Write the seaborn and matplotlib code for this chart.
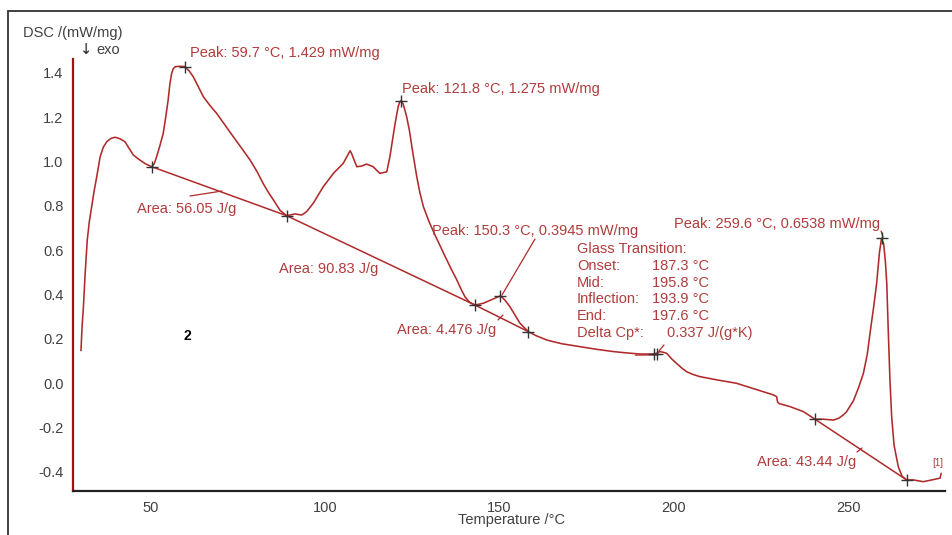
import numpy as np
import pandas as pd
import matplotlib
matplotlib.use("Agg")
import matplotlib.pyplot as plt
from matplotlib.ticker import MultipleLocator, FormatStrFormatter
from matplotlib.lines import Line2D
import seaborn as sns

# ---- data ----
temp = [30.0, 30.3, 30.7, 31.2, 31.8, 32.4, 33.1, 33.8, 34.5, 35.5, 36.4, 37.4, 38.6, 39.8,
        41.2, 42.6, 43.8, 45.0, 46.9, 48.5, 50.3,
        51.0, 51.7, 52.6, 53.6, 54.3, 55.0, 55.5, 56.0, 56.5, 57.0, 58.3, 59.7, 61.0, 62.2,
        63.6, 65.1, 66.9, 68.9, 71.3, 73.7, 76.1, 78.5, 80.5, 82.3, 83.8, 85.2, 87.1, 89.0,
        91.4, 93.3, 94.7, 96.6, 99.5, 102.4, 105.2, 107.2, 107.6, 109.1,
        110.5, 111.9, 113.8, 115.7, 117.7, 118.6, 120.1, 121.0, 121.4, 121.8, 122.4, 123.4,
        124.2, 124.9, 125.6, 126.3, 127.2, 128.2, 129.8, 131.5, 133.0, 134.5, 136.2, 137.8,
        139.0, 140.1, 141.5, 143.0, 145.4, 148.2, 150.3, 151.6, 153.0,
        155.9, 158.3, 160.5, 163.6, 168.0, 173.1, 178.0, 182.7, 186.5, 190.3, 194.0, 195.2,
        196.0, 197.0, 198.0, 199.4, 200.8, 202.2, 203.7, 205.5, 207.5, 212.5, 218.0, 222.0,
        225.7, 228.5, 229.5, 229.8, 230.3, 233.3, 237.2, 240.5, 242.9, 245.8, 247.3, 248.6,
        249.5, 251.5, 253.0, 254.4, 255.5, 256.3, 257.3, 258.2, 259.0, 259.6, 260.2, 260.7,
        261.1, 261.5, 262.0, 262.5, 263.2, 264.4, 265.5, 266.8, 268.7, 271.6, 276.4, 276.7]
dsc = [0.147, 0.25, 0.345, 0.496, 0.646, 0.73, 0.80, 0.87, 0.93, 1.022, 1.065, 1.09, 1.105, 1.11,
       1.103, 1.09, 1.06, 1.03, 1.007, 0.99, 0.977,
       0.99, 1.022, 1.07, 1.128, 1.20, 1.278, 1.35, 1.398, 1.42, 1.428, 1.43, 1.429, 1.41, 1.383,
       1.34, 1.293, 1.255, 1.218, 1.165, 1.112, 1.06, 1.007, 0.955, 0.90, 0.86, 0.827, 0.78, 0.756,
       0.764, 0.759, 0.774, 0.812, 0.887, 0.947, 0.992, 1.049, 1.037, 0.977,
       0.98, 0.989, 0.977, 0.947, 0.954, 1.022, 1.173, 1.25, 1.268, 1.275, 1.26, 1.203,
       1.14, 1.067, 1.0, 0.932, 0.86, 0.797, 0.73, 0.67, 0.62, 0.57, 0.515, 0.466,
       0.425, 0.391, 0.365, 0.353, 0.361, 0.380, 0.3945, 0.375, 0.346,
       0.271, 0.233, 0.215, 0.195, 0.178, 0.165, 0.153, 0.143, 0.137, 0.132, 0.132, 0.136,
       0.143, 0.140, 0.135, 0.11, 0.09, 0.07, 0.052, 0.04, 0.030, 0.015, 0.000, -0.02,
       -0.038, -0.052, -0.060, -0.085, -0.092, -0.105, -0.128, -0.162, -0.162, -0.166, -0.158, -0.143,
       -0.13, -0.08, -0.02, 0.045, 0.13, 0.226, 0.34, 0.451, 0.59, 0.6538, 0.63, 0.55,
       0.45, 0.25, 0.02, -0.15, -0.28, -0.376, -0.42, -0.436, -0.436, -0.444, -0.428, -0.406]

# marked points (+)
mark_t = [50.3, 59.7, 89.0, 121.8, 143.0, 150.3, 158.3, 194.2, 195.2, 240.5, 259.6, 266.8]
mark_v = [0.977, 1.429, 0.756, 1.275, 0.353, 0.3945, 0.233, 0.132, 0.134, -0.162, 0.6538, -0.436]

# integration baselines (start/end points)
base_t0 = [50.3, 89.0, 143.0, 240.5]
base_v0 = [0.977, 0.756, 0.353, -0.162]
base_t1 = [89.0, 143.0, 158.3, 266.8]
base_v1 = [0.756, 0.353, 0.233, -0.436]

peak_labels = ["Peak: 59.7 °C, 1.429 mW/mg", "Peak: 121.8 °C, 1.275 mW/mg",
               "Peak: 150.3 °C, 0.3945 mW/mg", "Peak: 259.6 °C, 0.6538 mW/mg"]
area_labels = ["Area: 56.05 J/g", "Area: 90.83 J/g", "Area: 4.476 J/g", "Area: 43.44 J/g"]
gt_names = ["Onset:", "Mid:", "Inflection:", "End:", "Delta Cp*:"]
gt_values = ["187.3 °C", "195.8 °C", "193.9 °C", "197.6 °C", "0.337 J/(g*K)"]

# ---- style ----
sns.set_style("white")
plt.rcParams['font.family'] = ['Liberation Sans', 'DejaVu Sans']
plt.rcParams['axes.unicode_minus'] = False

RED = "#b02a2a"
TXT = "#b13c3c"
SPINE = "#a31212"
GREY = "#404040"

W, H = 952, 535
fig = plt.figure(figsize=(W / 100, H / 100), dpi=100)
L, R, T_, B = 73.3, 945, 59, 491
ax = fig.add_axes([L / W, 1 - B / H, (R - L) / W, (B - T_) / H])

df = pd.DataFrame({"Temperature": temp, "DSC": dsc})
sns.lineplot(data=df, x="Temperature", y="DSC", ax=ax, color=RED, lw=1.15,
             sort=False, estimator=None)

for t0, v0, t1, v1 in zip(base_t0, base_v0, base_t1, base_v1):
    ax.plot([t0, t1], [v0, v1], color=RED, lw=1.1)
# glass transition tangent
ax.plot([189, 195.2], [0.127, 0.128], color=RED, lw=0.9)

ax.plot(mark_t, mark_v, ls="none", marker="+", ms=8, mew=1.0, color="#333333", zorder=5)

ax.set_xlim(27.8, 277.8)
ax.set_ylim(-0.486, 1.463)
ax.set_xlabel("")
ax.set_ylabel("")

ax.xaxis.set_major_locator(MultipleLocator(50))
ax.xaxis.set_minor_locator(MultipleLocator(10))
ax.yaxis.set_major_locator(MultipleLocator(0.2))
ax.yaxis.set_minor_locator(MultipleLocator(0.1))
ax.yaxis.set_major_formatter(FormatStrFormatter("%.1f"))

for s in ["top", "right"]:
    ax.spines[s].set_visible(False)
ax.spines["left"].set_color(SPINE)
ax.spines["left"].set_linewidth(1.6)
ax.spines["bottom"].set_color("#222222")
ax.spines["bottom"].set_linewidth(1.6)

ax.tick_params(axis="both", which="major", direction="out", length=4, width=1.2,
               labelsize=10.5, labelcolor=GREY, pad=3)
ax.tick_params(axis="both", which="minor", direction="out", length=2.5, width=1.0)
ax.tick_params(axis="y", which="both", colors=SPINE, labelcolor=GREY)
ax.tick_params(axis="x", which="both", colors="#222222", labelcolor=GREY)


def P(x, y):
    """pixel (from top-left) -> data coords"""
    return ax.transData.inverted().transform((x, H - y))


def put(x, y, s, **kw):
    kw.setdefault("color", TXT)
    kw.setdefault("fontsize", 10.5)
    ax.text(*P(x, y), s, ha=kw.pop("ha", "left"), va=kw.pop("va", "center"), **kw)


def leader(x0, y0, x1, y1):
    a, b = P(x0, y0), P(x1, y1)
    ax.plot([a[0], b[0]], [a[1], b[1]], color=RED, lw=0.9)


put(190, 53, peak_labels[0])
put(402, 89, peak_labels[1])
put(432, 231, peak_labels[2])
put(674, 224, peak_labels[3])
leader(535, 239, 502, 295)
leader(881, 231, 883, 237)

put(137, 209, area_labels[0])
leader(190, 196, 222, 191)
put(279, 269, area_labels[1])
put(397, 330, area_labels[2])
leader(498, 320, 503, 315)
put(757, 462, area_labels[3])
leader(857, 452, 862, 448)

put(577, 249, "Glass Transition:")
ys = [266.5, 283, 299, 316, 333]
for i, (n, v) in enumerate(zip(gt_names, gt_values)):
    put(577, ys[i], n)
    put(667 if i == 4 else 651.5, ys[i], v)
leader(664, 345, 659, 351)

put(187, 336, "2", color="black", fontsize=10, fontweight="bold", ha="center")
put(938, 463, "[1]", fontsize=7, ha="center")

# axis titles
fig.text(23 / W, 1 - 33 / H, "DSC /(mW/mg)", color=GREY, fontsize=10.5, va="center", ha="left")
fig.text(80 / W, 1 - 50 / H, "↓", color="#222222", fontsize=10.5, va="center", ha="left",
         family=['DejaVu Sans'])
fig.text(96 / W, 1 - 50 / H, "exo", color=GREY, fontsize=10.5, va="center", ha="left")
fig.text(511 / W, 1 - 520 / H, "Temperature /°C", color=GREY, fontsize=10.5, va="center", ha="center")

# outer frame (top and left edges)
fig.add_artist(Line2D([8 / W, 8 / W], [0, 1 - 11 / H], transform=fig.transFigure, color="#333333", lw=1.3))
fig.add_artist(Line2D([8 / W, 1], [1 - 11 / H, 1 - 11 / H], transform=fig.transFigure, color="#333333", lw=1.3))

fig.savefig("out.png", dpi=100)
